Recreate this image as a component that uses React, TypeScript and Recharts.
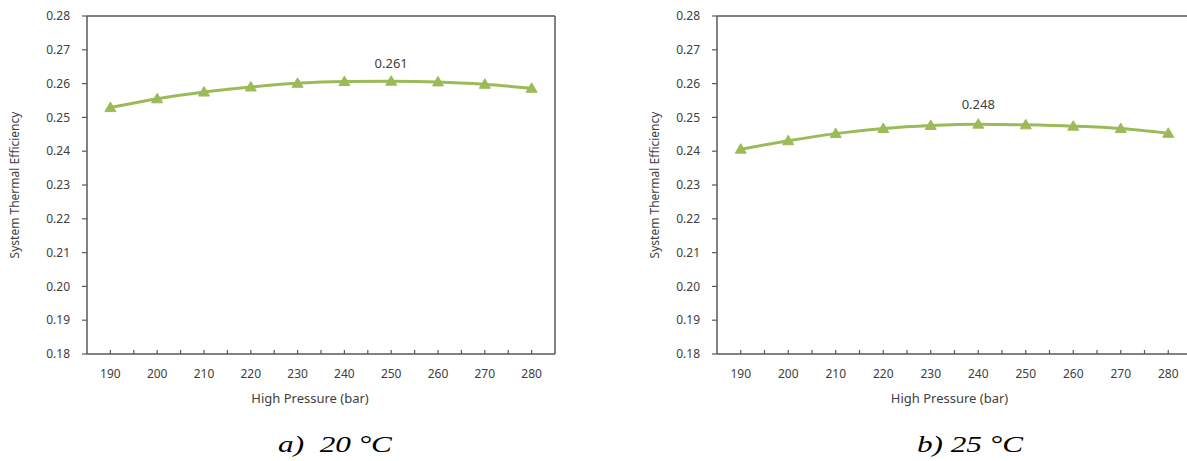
import { LineChart, Line, XAxis, YAxis, ReferenceLine, LabelList } from "recharts";

const pressure = [190, 200, 210, 220, 230, 240, 250, 260, 270, 280];
const eff20 = [0.2529, 0.2555, 0.2575, 0.259, 0.2601, 0.2606, 0.2607, 0.2605, 0.2598, 0.2586];
const eff25 = [0.2406, 0.2431, 0.2452, 0.2467, 0.2476, 0.248, 0.2478, 0.2474, 0.2467, 0.2453];

const xTickMarks = [190, 195, 200, 205, 210, 215, 220, 225, 230, 235, 240, 245, 250, 255, 260, 265, 270, 275, 280];
const yTicks = [0.18, 0.19, 0.2, 0.21, 0.22, 0.23, 0.24, 0.25, 0.26, 0.27, 0.28];

const GREEN = "#9BBB59";
const AXIS = "#595959";
const TEXT = "#404040";
const FONT = "'Noto Sans', 'Open Sans', sans-serif";

function Triangle(props: any) {
  const { cx, cy } = props;
  if (cx == null || cy == null) return null;
  return (
    <polygon
      points={`${cx - 5.5},${cy + 4} ${cx + 5.5},${cy + 4} ${cx},${cy - 5.5}`}
      fill={GREEN}
      stroke={GREEN}
      strokeWidth={1}
    />
  );
}

interface PanelProps {
  values: number[];
  labelAt: number;
  width: number;
  yLabelOffset: number;
  xLabelDx: number;
  labelGap: number;
}

function Panel({ values, labelAt, width, yLabelOffset, xLabelDx, labelGap }: PanelProps) {
  const data = pressure.map((p, i) => ({ p, eff: values[i] }));
  return (
    <LineChart
      width={width}
      height={420}
      data={data}
      margin={{ top: 16, right: 25, left: 0, bottom: 0 }}
      style={{ fontFamily: FONT }}
    >
      <ReferenceLine y={0.28} stroke={AXIS} strokeWidth={1.5} ifOverflow="visible" />
      <ReferenceLine x={285} stroke={AXIS} strokeWidth={1.5} ifOverflow="visible" />
      <XAxis
        dataKey="p"
        type="number"
        domain={[185, 285]}
        ticks={xTickMarks}
        interval={0}
        height={66}
        tickSize={-4}
        tickMargin={19}
        axisLine={{ stroke: AXIS, strokeWidth: 1.5 }}
        tickLine={{ stroke: AXIS, strokeWidth: 1.2 }}
        tick={{ fontSize: 12, fill: TEXT }}
        tickFormatter={(v: number) => (v % 10 === 0 ? String(v) : "")}
        label={{
          value: "High Pressure (bar)",
          position: "insideBottom",
          offset: 17,
          dx: xLabelDx,
          style: { fontSize: 13, fill: TEXT, textAnchor: "middle" },
        }}
      />
      <YAxis
        type="number"
        domain={[0.18, 0.28]}
        ticks={yTicks}
        interval={0}
        width={87}
        tickSize={5}
        tickMargin={12}
        axisLine={{ stroke: AXIS, strokeWidth: 1.5 }}
        tickLine={{ stroke: AXIS, strokeWidth: 1.2 }}
        tick={{ fontSize: 12, fill: TEXT }}
        tickFormatter={(v: number) => v.toFixed(2)}
        label={{
          value: "System Thermal Efficiency",
          angle: -90,
          position: "insideLeft",
          offset: yLabelOffset,
          style: { fontSize: 12, fill: TEXT, textAnchor: "middle" },
        }}
      />
      <Line
        dataKey="eff"
        type="monotone"
        stroke={GREEN}
        strokeWidth={3}
        dot={(p: any) => <Triangle key={`t${p.index}`} {...p} />}
        activeDot={false}
        isAnimationActive={false}
      >
        <LabelList
          dataKey="eff"
          content={(lp: any) =>
            data[lp.index] && data[lp.index].p === labelAt ? (
              <text
                x={lp.x}
                y={lp.y - labelGap}
                textAnchor="middle"
                fontSize={13}
                fill={TEXT}
                fontFamily={FONT}
              >
                {Number(lp.value).toFixed(3)}
              </text>
            ) : null
          }
        />
      </Line>
    </LineChart>
  );
}

const captionStyle: React.CSSProperties = {
  position: "absolute",
  top: 444,
  fontFamily: "'Liberation Serif', 'Times New Roman', serif",
  fontStyle: "italic",
  fontSize: 24,
  color: "#000",
  whiteSpace: "pre",
  lineHeight: 1,
};

export default function App() {
  return (
    <div
      style={{
        position: "absolute",
        left: 0,
        top: 0,
        width: 1187,
        height: 461,
        overflow: "hidden",
        background: "#fff",
      }}
    >
      <div style={{ position: "absolute", left: 0, top: 0 }}>
        <Panel values={eff20} labelAt={250} width={580} yLabelOffset={15} xLabelDx={-11} labelGap={13} />
      </div>
      <div style={{ position: "absolute", left: 630, top: 0 }}>
        <Panel values={eff25} labelAt={240} width={587} yLabelOffset={25} xLabelDx={-5} labelGap={15} />
      </div>
      <div style={{ ...captionStyle, left: 335, transform: "translate(-50%, -50%) scaleX(1.3)" }}>
        {"a)  20 °C"}
      </div>
      <div style={{ ...captionStyle, left: 970, transform: "translate(-50%, -50%) scaleX(1.3)" }}>
        {"b) 25 °C"}
      </div>
    </div>
  );
}
